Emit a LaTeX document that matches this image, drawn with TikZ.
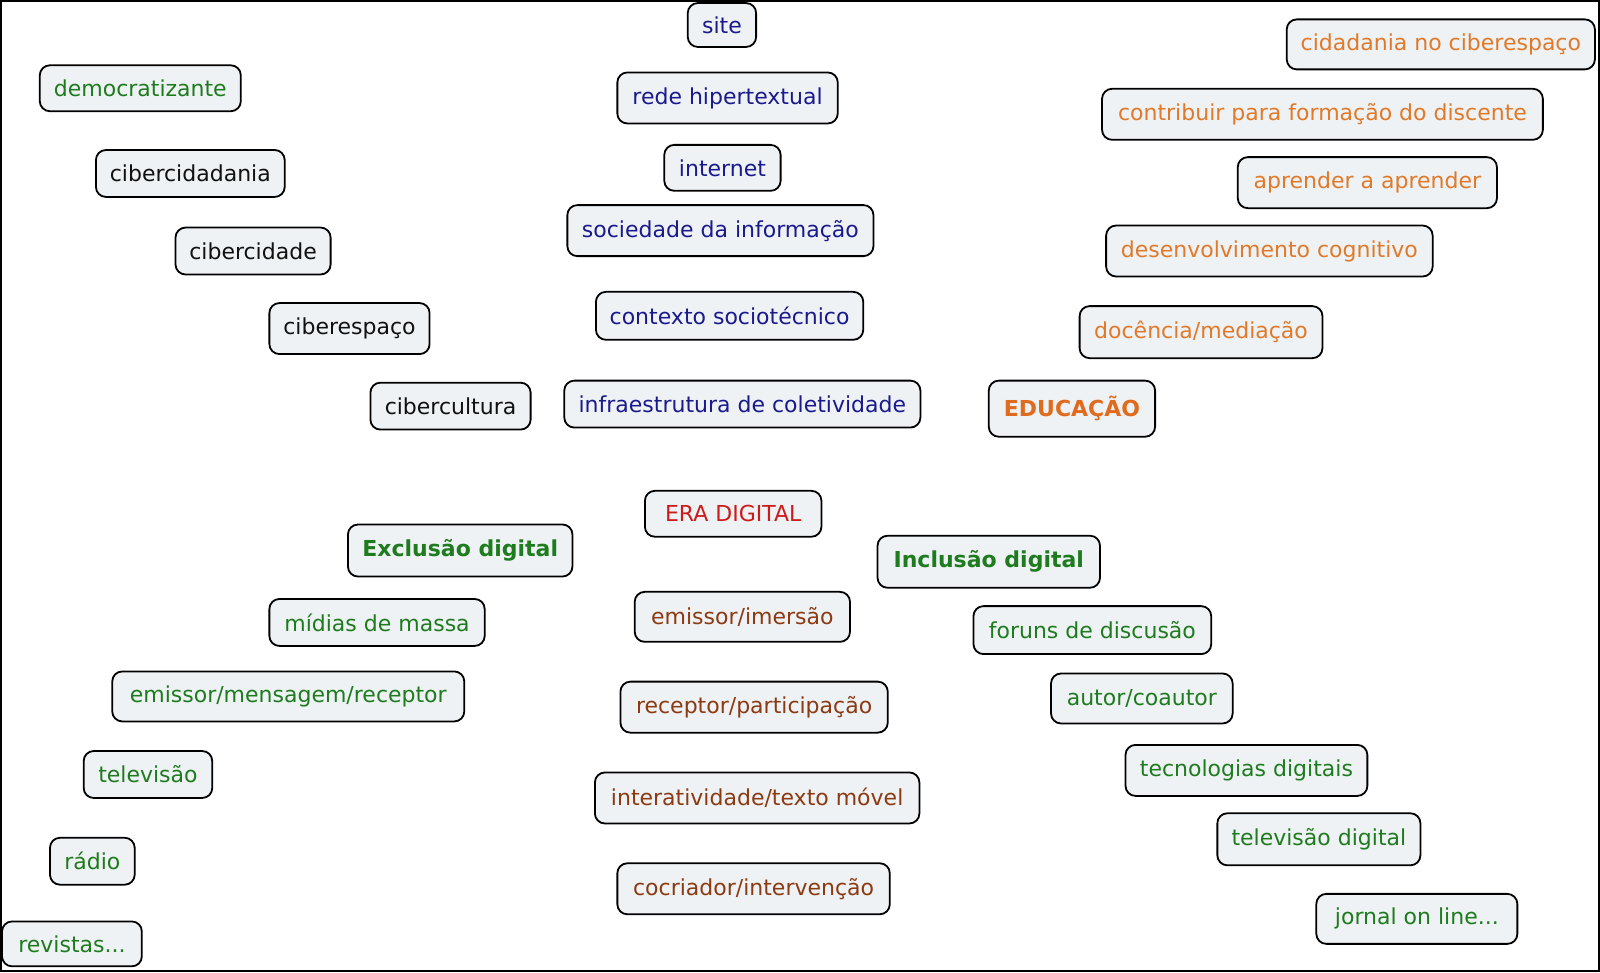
\documentclass[tikz,border=0pt]{standalone}
\usepackage{fontspec}
\setmainfont{DejaVu Sans}
\definecolor{navy}{HTML}{1A1A8C}
\definecolor{grn}{HTML}{1E7B1E}
\definecolor{org}{HTML}{E07A2A}
\definecolor{orgb}{HTML}{E06B1F}
\definecolor{red1}{HTML}{CC1B1B}
\definecolor{brn}{HTML}{8B3A12}
\definecolor{blk}{HTML}{111111}
\definecolor{boxfill}{HTML}{EEF2F4}
\newcommand\bx[7]{%
  \pgfmathsetmacro\bw{(#4-#2)*1.0204}%
  \pgfmathsetmacro\bh{(#5-#3)*1.0204}%
  \node[box, text=#6, minimum width=\bw pt, minimum height=\bh pt] (#1) at ({(#2+#4)/2},{(#3+#5)/2}) {#7};}
\begin{document}
\begin{tikzpicture}[x=1.0204pt, y=-1.0204pt,
  box/.style={draw=black, fill=boxfill, line width=1.8pt, rounded corners=10pt,
    inner sep=1pt, font=\fontsize{22}{26}\selectfont}]
\useasboundingbox (0,0) rectangle (1568,952.6);
\draw[line width=2pt] (0.9,0.9) rectangle (1567.1,951.7);
% blue column
\bx{site}{674}{3}{741}{46}{navy}{site}
\bx{rede}{605}{71}{821}{121}{navy}{rede hipertextual}
\bx{internet}{651}{142}{765}{187}{navy}{internet}
\bx{sociedade}{556}{201}{856}{251}{navy}{sociedade da informação}
\bx{contexto}{584}{286}{846}{333}{navy}{contexto sociotécnico}
\bx{infra}{553}{373}{902}{419}{navy}{infraestrutura de coletividade}
% left diagonal
\bx{democ}{39}{64}{236}{109}{grn}{democratizante}
\bx{cidadania}{94}{147}{279}{193}{blk}{cibercidadania}
\bx{cidade}{172}{223}{324}{269}{blk}{cibercidade}
\bx{espaco}{264}{297}{421}{347}{blk}{ciberespaço}
\bx{cultura}{363}{375}{520}{421}{blk}{cibercultura}
% education
\bx{cidciber}{1261}{19}{1563}{68}{org}{cidadania no ciberespaço}
\bx{contrib}{1080}{87}{1512}{137}{org}{contribuir para formação do discente}
\bx{aprender}{1213}{154}{1467}{204}{org}{aprender a aprender}
\bx{desenv}{1084}{221}{1404}{271}{org}{desenvolvimento cognitivo}
\bx{docencia}{1058}{300}{1296}{351}{org}{docência/mediação}
\bx{educ}{969}{373}{1132}{428}{orgb}{\bfseries EDUCAÇÃO}
% era digital
\bx{era}{632}{481}{805}{526}{red1}{ERA DIGITAL}
\bx{exclusao}{341}{514}{561}{565}{grn}{\bfseries Exclusão digital}
\bx{inclusao}{860}{525}{1078}{576}{grn}{\bfseries Inclusão digital}
% exclusion list
\bx{midias}{264}{587}{475}{633}{grn}{mídias de massa}
\bx{emr}{110}{658}{455}{707}{grn}{emissor/mensagem/receptor}
\bx{tv}{82}{736}{208}{782}{grn}{televisão}
\bx{radio}{49}{821}{132}{867}{grn}{rádio}
\bx{revistas}{2}{903}{139}{947}{grn}{revistas...}
% middle list
\bx{emissor}{622}{580}{833}{629}{brn}{emissor/imersão}
\bx{receptor}{608}{668}{870}{718}{brn}{receptor/participação}
\bx{interat}{583}{757}{901}{807}{brn}{interatividade/texto móvel}
\bx{cocriador}{605}{846}{872}{896}{brn}{cocriador/intervenção}
% inclusion list
\bx{foruns}{954}{594}{1187}{641}{grn}{foruns de discusão}
\bx{autor}{1030}{660}{1208}{709}{grn}{autor/coautor}
\bx{tecno}{1103}{730}{1340}{780}{grn}{tecnologias digitais}
\bx{tvd}{1193}{797}{1392}{848}{grn}{televisão digital}
\bx{jornal}{1290}{876}{1487}{925}{grn}{jornal on line...}
\end{tikzpicture}
\end{document}
